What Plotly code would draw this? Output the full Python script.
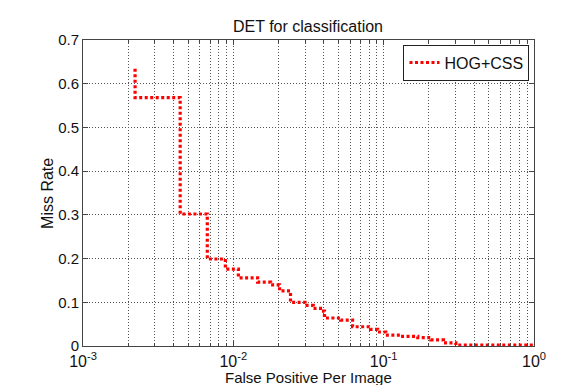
import plotly.graph_objects as go

# Data (FPPI vs miss rate), step-shaped
fppi = [0.00222, 0.00222, 0.00443, 0.00671, 0.00885, 0.0108, 0.0145, 0.0177,
        0.0203, 0.0240, 0.0300, 0.0340, 0.0398, 0.0404, 0.0517, 0.0621,
        0.0819, 0.0912, 0.1033, 0.1300, 0.1686, 0.206, 0.250, 0.302, 1.0]
miss_rate = [0.634, 0.568, 0.302, 0.199, 0.176, 0.156, 0.146, 0.140,
             0.126, 0.100, 0.093, 0.086, 0.080, 0.064, 0.059, 0.044,
             0.038, 0.032, 0.025, 0.022, 0.019, 0.014, 0.007, 0.002, 0.002]
series_name = "HOG+CSS"

x_tick_vals = [0.001, 0.01, 0.1, 1]
x_tick_text = ["10<sup>-3</sup>", "10<sup>-2</sup>", "10<sup>-1</sup>", "10<sup>0</sup>"]
x_minor_vals = [m * d for d in (0.001, 0.01, 0.1) for m in range(2, 10)]
y_tick_vals = [0, 0.1, 0.2, 0.3, 0.4, 0.5, 0.6, 0.7]
y_tick_text = ["0", "0.1", "0.2", "0.3", "0.4", "0.5", "0.6", "0.7"]

FONT = "Liberation Sans, Arial, sans-serif"
FS = 16
GRID = "#555555"
GRIDDASH = "1px,2px"

fig = go.Figure()
fig.add_trace(go.Scatter(
    x=fppi, y=miss_rate, mode="lines", name=series_name,
    line=dict(color="#ff0000", width=3.2, dash="3px,2.5px", shape="hv"),
))

fig.update_layout(
    width=581, height=385,
    margin=dict(l=83, r=47, t=40, b=39),
    paper_bgcolor="white", plot_bgcolor="white",
    font=dict(family=FONT, size=FS, color="#111"),
    title=dict(text="DET for classification", x=(83 + 225) / 581, xanchor="center",
               y=1 - 26 / 385, yanchor="middle", yref="container",
               font=dict(family=FONT, size=FS, color="#111")),
    showlegend=True,
    legend=dict(x=0.99, y=0.985, xanchor="right", yanchor="top",
                bgcolor="white", bordercolor="#222", borderwidth=1,
                font=dict(family=FONT, size=FS, color="#111"),
                itemwidth=30, tracegroupgap=0),
    annotations=[
        dict(text="False Positive Per Image", xref="paper", yref="paper",
             x=0.5, y=(346 - 377) / 306, xanchor="center", yanchor="middle",
             showarrow=False, font=dict(family=FONT, size=15, color="#111")),
        dict(text="Miss Rate", xref="paper", yref="paper",
             x=(47 - 83) / 450, y=0.5, xanchor="center", yanchor="middle",
             textangle=-90, showarrow=False,
             font=dict(family=FONT, size=FS, color="#111")),
    ],
)

fig.update_xaxes(
    type="log", range=[-3, 0],
    tickmode="array", tickvals=x_tick_vals, ticktext=x_tick_text,
    ticks="inside", ticklen=5, tickcolor="#444",
    showline=True, linecolor="#444", linewidth=1, mirror="ticks",
    showgrid=True, gridcolor=GRID, griddash=GRIDDASH, gridwidth=1,
    minor=dict(tickmode="array", tickvals=x_minor_vals, ticks="inside", ticklen=3,
               tickcolor="#444", showgrid=True, gridcolor=GRID, griddash=GRIDDASH,
               gridwidth=1),
    zeroline=False,
    tickfont=dict(family=FONT, size=FS, color="#111"),
    ticklabelstandoff=1,
)
fig.update_yaxes(
    range=[0, 0.7],
    tickmode="array", tickvals=y_tick_vals, ticktext=y_tick_text,
    ticks="inside", ticklen=5, tickcolor="#444",
    showline=True, linecolor="#444", linewidth=1, mirror="ticks",
    showgrid=True, gridcolor=GRID, griddash=GRIDDASH, gridwidth=1,
    zeroline=False,
    tickfont=dict(family=FONT, size=15, color="#111"),
    ticklabelstandoff=0,
)

fig.write_html("out.html")
